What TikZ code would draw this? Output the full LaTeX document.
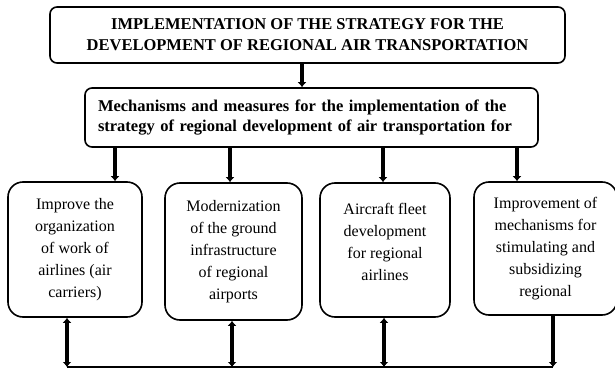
\documentclass[tikz,border=0pt]{standalone}
\usepackage{fontspec}
\setmainfont{Liberation Serif}
\usetikzlibrary{arrows.meta}
\begin{document}
\begin{tikzpicture}[x=1pt,y=-1pt,
  headbox/.style={draw,line width=1.6pt,rounded corners=7pt,inner sep=0pt,align=center,font=\fontsize{16.5}{21}\selectfont\bfseries},
  subbox/.style={draw,line width=1.6pt,rounded corners=15pt,inner sep=0pt,align=center,font=\fontsize{16}{22}\selectfont},
  conn/.style={line width=3.2pt,-{Latex[length=5pt,width=9pt]}},
  biconn/.style={line width=3.2pt,{Latex[length=5pt,width=9pt]}-{Latex[length=5pt,width=9pt]}},
  bus/.style={line width=1.8pt}]
\useasboundingbox (0,0) rectangle (615,369);
% top box
\node[headbox,minimum width=515pt,minimum height=56pt] (top) at (307.5,35)
  {IMPLEMENTATION OF THE STRATEGY FOR THE\\DEVELOPMENT OF REGIONAL AIR TRANSPORTATION};
% second box
\node[headbox,align=left,text width=427pt,inner xsep=13pt,minimum height=59pt,font=\fontsize{16.5}{19.5}\selectfont\bfseries] (mech) at (311.5,117.5)
  {Mechanisms and measures for the implementation of the\\strategy of regional development of air transportation for};
% bottom boxes
\node[subbox,minimum width=134pt,minimum height=135pt] (b1) at (75,249.5)
  {Improve the\\organization\\of work of\\airlines (air\\carriers)};
\node[subbox,minimum width=137pt,minimum height=137pt] (b2) at (233.5,251.5)
  {Modernization\\of the ground\\infrastructure\\of regional\\airports};
\node[subbox,minimum width=130pt,minimum height=134pt] (b3) at (385,250)
  {Aircraft fleet\\development\\for regional\\airlines\rule[-17pt]{0pt}{1pt}};
\node[subbox,minimum width=143pt,minimum height=133pt] (b4) at (545.5,248.5)
  {Improvement of\\mechanisms for\\stimulating and\\subsidizing\\regional};
% connectors
\draw[conn] (top.south -| 302,0) -- (mech.north -| 302,0);
\draw[conn] (mech.south -| 115,0) -- (b1.north -| 115,0);
\draw[conn] (mech.south -| 230,0) -- (b2.north -| 230,0);
\draw[conn] (mech.south -| 383,0) -- (b3.north -| 383,0);
\draw[conn] (mech.south -| 517,0) -- (b4.north -| 517,0);
% bottom bus
\coordinate (bl) at (67,367);
\coordinate (br) at (553,367);
\draw[bus] (bl) -- (br);
\draw[biconn] (b1.south -| 67,0) -- (bl);
\draw[biconn] (b2.south -| 232,0) -- (232,367);
\draw[biconn] (b3.south -| 384,0) -- (384,367);
\draw[conn] (b4.south -| 553,0) -- (br);
\end{tikzpicture}
\end{document}
